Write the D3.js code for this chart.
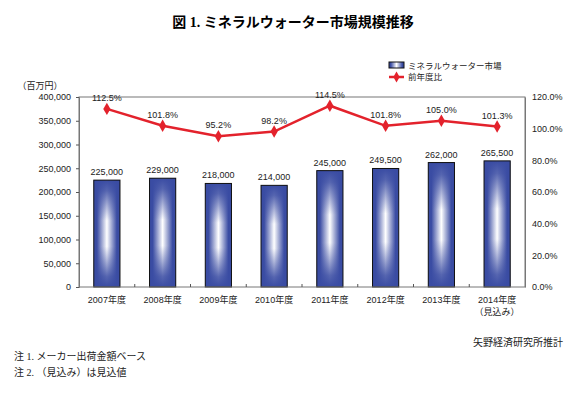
<!DOCTYPE html>
<html>
<head>
<meta charset="utf-8">
<script src="https://cdn.jsdelivr.net/npm/d3@7"></script>
<style>
  body { margin: 0; background: #fff; }
  text { font-family: Arial, "Liberation Sans", "Noto Sans CJK JP", sans-serif; }
</style>
</head>
<body>
<div id="chart"></div>
<script>
// data
var years = ["2007年度", "2008年度", "2009年度", "2010年度", "2011年度", "2012年度", "2013年度", "2014年度"];
var market = [225000, 229000, 218000, 214000, 245000, 249500, 262000, 265500];
var ratio = [112.5, 101.8, 95.2, 98.2, 114.5, 101.8, 105.0, 101.3];
var leftTicks = [0, 50000, 100000, 150000, 200000, 250000, 300000, 350000, 400000];
var rightTicks = [0, 20, 40, 60, 80, 100, 120];

var svgWidth = 586, svgHeight = 394;
var margin = { top: 97, bottom: 107, left: 79, right: 61 };
var width = svgWidth - margin.left - margin.right;
var height = svgHeight - margin.top - margin.bottom;

var svg = d3.select("#chart").append("svg")
  .attr("width", svgWidth)
  .attr("height", svgHeight);

// gradients for bars
var defs = svg.append("defs");
var hg = defs.append("linearGradient").attr("id", "hgrad")
  .attr("x1", "0").attr("x2", "1").attr("y1", "0").attr("y2", "0");
hg.append("stop").attr("offset", "0%").attr("stop-color", "#3a4ca3");
hg.append("stop").attr("offset", "12%").attr("stop-color", "#3a4ca3");
hg.append("stop").attr("offset", "50%").attr("stop-color", "#ffffff");
hg.append("stop").attr("offset", "88%").attr("stop-color", "#3a4ca3");
hg.append("stop").attr("offset", "100%").attr("stop-color", "#3a4ca3");
var vg = defs.append("linearGradient").attr("id", "vgrad")
  .attr("x1", "0").attr("x2", "0").attr("y1", "0").attr("y2", "1");
vg.append("stop").attr("offset", "0%").attr("stop-color", "#3a4ca3").attr("stop-opacity", 1);
vg.append("stop").attr("offset", "10%").attr("stop-color", "#3a4ca3").attr("stop-opacity", 0.85);
vg.append("stop").attr("offset", "38%").attr("stop-color", "#3a4ca3").attr("stop-opacity", 0);
vg.append("stop").attr("offset", "62%").attr("stop-color", "#3a4ca3").attr("stop-opacity", 0);
vg.append("stop").attr("offset", "90%").attr("stop-color", "#3a4ca3").attr("stop-opacity", 0.85);
vg.append("stop").attr("offset", "100%").attr("stop-color", "#3a4ca3").attr("stop-opacity", 1);

// title
svg.append("text")
  .attr("x", 293).attr("y", 27)
  .attr("text-anchor", "middle")
  .style("font-family", "'Liberation Serif', 'Noto Sans CJK JP', serif")
  .style("font-weight", "bold")
  .style("font-size", "14px")
  .text("図 1. ミネラルウォーター市場規模推移");

var chartGroup = svg.append("g")
  .attr("transform", `translate(${margin.left}, ${margin.top})`);

// scales
var xScale = d3.scaleBand().domain(years).range([0, width]).paddingInner(0.53).paddingOuter(0.265);
var xPoint = function(d) { return xScale(d) + xScale.bandwidth() / 2; };
var yLeft = d3.scaleLinear().domain([0, 400000]).range([height, 0]);
var yRight = d3.scaleLinear().domain([0, 120]).range([height, 0]);

// bars
var bars = chartGroup.selectAll(".bar").data(years).enter().append("g");
bars.append("rect")
  .attr("x", d => xScale(d))
  .attr("y", (d, i) => yLeft(market[i]))
  .attr("width", xScale.bandwidth())
  .attr("height", (d, i) => height - yLeft(market[i]))
  .attr("fill", "url(#hgrad)");
bars.append("rect")
  .attr("x", d => xScale(d))
  .attr("y", (d, i) => yLeft(market[i]))
  .attr("width", xScale.bandwidth())
  .attr("height", (d, i) => height - yLeft(market[i]))
  .attr("fill", "url(#vgrad)")
  .attr("stroke", "#111")
  .attr("stroke-width", 1);

bars.append("text")
  .attr("x", d => xPoint(d))
  .attr("y", (d, i) => yLeft(market[i]) - 5)
  .attr("text-anchor", "middle")
  .style("font-size", "9px")
  .attr("fill", "#222")
  .text((d, i) => d3.format(",")(market[i]));

// plot frame
chartGroup.append("rect")
  .attr("x", 0).attr("y", 0)
  .attr("width", width).attr("height", height)
  .attr("fill", "none")
  .attr("stroke", "#777").attr("stroke-width", 1);

// axes
var leftAxis = d3.axisLeft(yLeft).tickValues(leftTicks).tickSize(3).tickPadding(5).tickFormat(d3.format(","));
var gl = chartGroup.append("g").call(leftAxis);
gl.select(".domain").attr("stroke", "#777");
gl.selectAll(".tick line").attr("stroke", "#555");
gl.selectAll("text").style("font-size", "9px").attr("fill", "#222");

var rightAxis = d3.axisRight(yRight).tickValues(rightTicks).tickSize(0).tickPadding(7).tickFormat(d => d.toFixed(1) + "%");
var gr = chartGroup.append("g").attr("transform", `translate(${width},0)`).call(rightAxis);
gr.select(".domain").attr("stroke", "#777");
gr.selectAll("text").style("font-size", "9px").attr("fill", "#222");

// category separators on x axis
var step = xScale.step();
chartGroup.selectAll(".sep").data(years.slice(1)).enter().append("line")
  .attr("x1", d => xScale(d) - (step - xScale.bandwidth()) / 2)
  .attr("x2", d => xScale(d) - (step - xScale.bandwidth()) / 2)
  .attr("y1", height).attr("y2", height - 3)
  .attr("stroke", "#555");

// x labels
chartGroup.selectAll(".xl").data(years).enter().append("text")
  .attr("x", d => xPoint(d))
  .attr("y", height + 16)
  .attr("text-anchor", "middle")
  .style("font-size", "9px")
  .attr("fill", "#222")
  .text(d => d);
chartGroup.append("text")
  .attr("x", xPoint(years[7]))
  .attr("y", height + 28)
  .attr("text-anchor", "middle")
  .style("font-size", "9px")
  .attr("fill", "#222")
  .text("（見込み）");

// line
var line = d3.line().x((d, i) => xPoint(years[i])).y(d => yRight(d));
chartGroup.append("path")
  .datum(ratio)
  .attr("d", line)
  .attr("fill", "none")
  .attr("stroke", "#e3222c")
  .attr("stroke-width", 2.5);
chartGroup.selectAll(".pt").data(ratio).enter().append("path")
  .attr("d", d3.symbol().type(d3.symbolDiamond).size(45))
  .attr("transform", (d, i) => `translate(${xPoint(years[i])},${yRight(d)})`)
  .attr("fill", "#e3222c");
chartGroup.selectAll(".pl").data(ratio).enter().append("text")
  .attr("x", (d, i) => xPoint(years[i]))
  .attr("y", d => yRight(d) - 8)
  .attr("text-anchor", "middle")
  .style("font-size", "9px")
  .attr("fill", "#222")
  .text(d => d.toFixed(1) + "%");

// unit label
svg.append("text")
  .attr("x", 40).attr("y", 89)
  .attr("text-anchor", "middle")
  .style("font-size", "9px")
  .attr("fill", "#222")
  .text("（百万円）");

// legend
var legend = svg.append("g").attr("transform", "translate(389,62)");
legend.append("rect")
  .attr("x", 0).attr("y", 0).attr("width", 15).attr("height", 6)
  .attr("fill", "url(#hgrad)").attr("stroke", "#111");
legend.append("text").attr("x", 19).attr("y", 7)
  .style("font-size", "8.5px").attr("fill", "#222")
  .text("ミネラルウォーター市場");
legend.append("line")
  .attr("x1", 0).attr("x2", 15).attr("y1", 15).attr("y2", 15)
  .attr("stroke", "#e3222c").attr("stroke-width", 2.5);
legend.append("path")
  .attr("d", d3.symbol().type(d3.symbolDiamond).size(35))
  .attr("transform", "translate(7.5,15)")
  .attr("fill", "#e3222c");
legend.append("text").attr("x", 19).attr("y", 18)
  .style("font-size", "8.5px").attr("fill", "#222")
  .text("前年度比");

// source and notes
var serif = "'Liberation Serif', 'Noto Sans CJK JP', serif";
svg.append("text")
  .attr("x", 563).attr("y", 346)
  .attr("text-anchor", "end")
  .style("font-family", serif)
  .style("font-size", "10px")
  .attr("fill", "#222")
  .text("矢野経済研究所推計");
svg.append("text")
  .attr("x", 14).attr("y", 360)
  .style("font-family", serif)
  .style("font-size", "10px")
  .attr("fill", "#222")
  .text("注 1. メーカー出荷金額ベース");
svg.append("text")
  .attr("x", 14).attr("y", 376)
  .style("font-family", serif)
  .style("font-size", "10px")
  .attr("fill", "#222")
  .text("注 2. （見込み）は見込値");
</script>
</body>
</html>
